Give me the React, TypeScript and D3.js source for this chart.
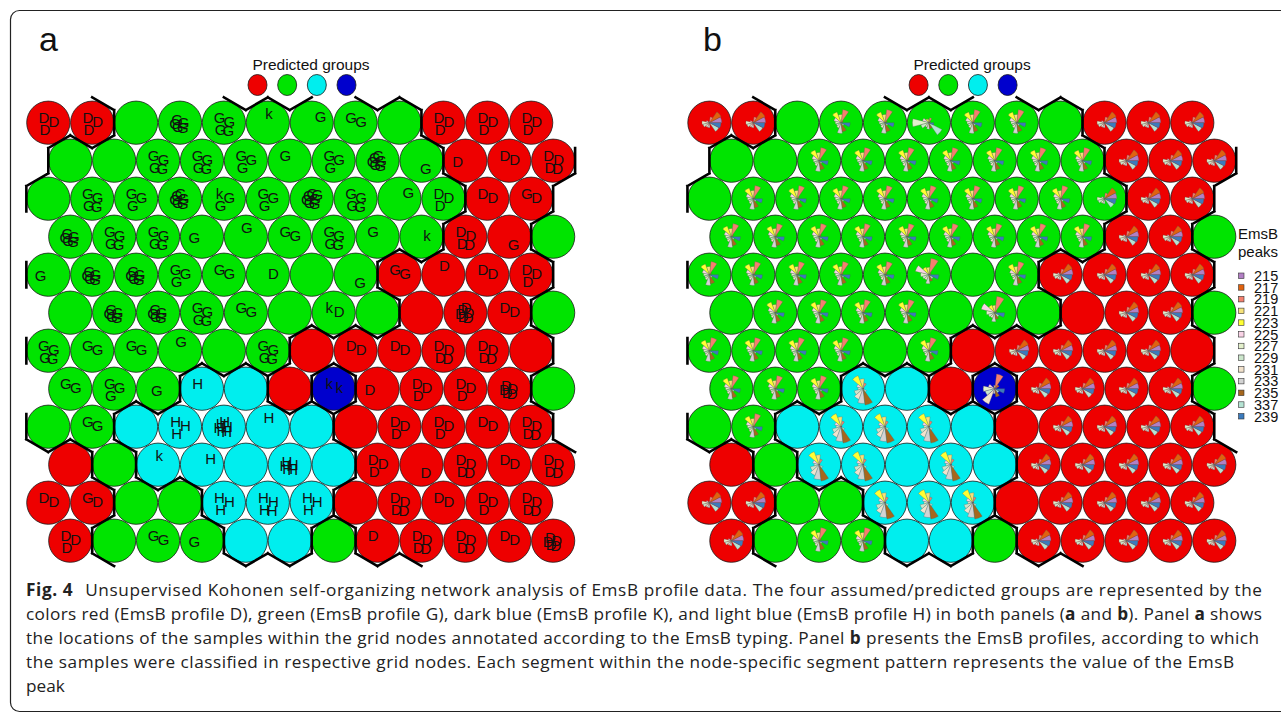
import React from "react";
import * as d3 from "d3";

// SOM grid: 12 x 12 hexagonal, rows from top
const N_ROWS = 12;
const N_COLS = 12;

// predicted group per node (R red = D, G green = G, C light blue = H, B dark blue = K)
const GROUP_ROWS = [
  "RRGGGGGGGRRR",
  "GGGGGGGGGRRR",
  "GGGGGGGGGGRR",
  "GGGGGGGGGRRG",
  "GGGGGGGGRRRR",
  "GGGGGGGGRRRG",
  "GGGGGGRRRRRR",
  "GGGCCRBRRRRG",
  "GGCCCCCRRRRR",
  "RGCCCCCRRRRR",
  "RRGGCCCRRRRR",
  "RGGGCCGRRRRR",
];

// samples mapped into each node, one char per sample (EmsB typing)
const NODE_LABELS = [
  ["DDD", "DDD", "", "GGGGG", "GGGG", "k", "G", "GG", "", "DDD", "DDD", "DDD"],
  ["", "", "GGGG", "GGGG", "GGG", "G", "GGG", "GGGGGG", "G", "D", "DD", "DDDD"],
  ["", "GGGG", "GGG", "GGGGGG", "kGG", "GGG", "GGGGGGG", "GGGG", "G", "DDD", "DD", "GD"],
  ["GGGGG", "GGGG", "GGGG", "G", "G", "GG", "GGGG", "G", "k", "DDDD", "G", ""],
  ["G", "GGGGG", "GGGGG", "GGG", "GG", "D", "", "G", "GG", "D", "DD", "DDD"],
  ["", "GGGGG", "GGGGG", "GGGG", "GG", "", "kD", "", "", "DDDDDD", "DD", ""],
  ["GGGG", "GG", "GG", "G", "", "GGGG", "", "DD", "DD", "DDDD", "DDDD", ""],
  ["GG", "GGG", "G", "H", "", "", "kk", "D", "DDD", "DDD", "DDDDD", ""],
  ["", "GG", "", "HHH", "HHHHHH", "H", "", "", "DDD", "DDD", "DD", "DDDD"],
  ["", "", "k", "H", "", "HHHHH", "", "DDD", "D", "DDDD", "DD", "DDDD"],
  ["DD", "GD", "", "", "HHH", "HHHH", "HHH", "", "DDDD", "DD", "DDD", "DDDD"],
  ["DDD", "", "GG", "G", "", "", "", "D", "DDDD", "DDDD", "DD", "DDDDD"],
];

const GROUP_COLORS: Record<string, string> = {
  R: "#ee0000",
  G: "#00e400",
  C: "#00eeee",
  B: "#0000cd",
};
const LEGEND_GROUPS = ["R", "G", "C", "B"];

// EmsB peaks (legend keeps the "337" as printed)
const PEAKS = ["215", "217", "219", "221", "223", "225", "227", "229", "231", "233", "235", "337", "239"];
const PEAK_COLORS = [
  "#b27fc4", "#e0620f", "#f4806e", "#f6e27a", "#ffff33", "#f9d3e6", "#e3f0cc",
  "#cce6cc", "#f2e2cc", "#d3d3d3", "#a6671d", "#b5e3d3", "#3b7bbd",
];

// codebook profiles (relative peak values)
const PROFILE_RED = [0.75, 0.8, 0.35, 0.08, 0.05, 0.2, 0.45, 0.4, 0.3, 0.3, 0.1, 0.65, 0.7];
const PROFILE_GREEN = [0.05, 0.15, 0.8, 0.5, 0.7, 0.45, 0.35, 0.3, 0.35, 0.65, 0.55, 0.2, 0.55];
const PROFILE_CYAN = [0.02, 0.05, 0.35, 0.6, 0.85, 0.4, 0.3, 0.55, 0.7, 0.9, 1.0, 0.25, 0.05];
const PROFILE_BLUE = [0.1, 0.3, 0.9, 0.2, 0.1, 0.4, 0.7, 0.6, 1.0, 0.3, 0.5, 0.3, 0.6];
const PROFILE_PINK = [0.1, 0.15, 1.0, 0.45, 0.5, 0.85, 0.5, 0.4, 0.35, 0.55, 0.4, 0.3, 0.6];
const PROFILE_WIDE = [0.1, 0.1, 0.3, 0.2, 0.25, 0.4, 1.0, 0.5, 0.3, 0.4, 0.35, 0.9, 0.3];
const GROUP_PROFILES: Record<string, number[]> = {
  R: PROFILE_RED,
  G: PROFILE_GREEN,
  C: PROFILE_CYAN,
  B: PROFILE_BLUE,
};
// nodes whose pattern differs from their group's
const PROFILE_OVERRIDES: [number, number, number[]][] = [
  [0, 5, PROFILE_WIDE],
  [4, 5, PROFILE_PINK],
  [5, 6, PROFILE_PINK],
  [2, 9, PROFILE_RED],
];

const CAPTION = [
  [["b", "Fig. 4"], ["s", "Unsupervised Kohonen self-organizing network analysis of EmsB profile data. The four assumed/predicted groups are represented by the"]],
  [["n", "colors red (EmsB profile D), green (EmsB profile G), dark blue (EmsB profile K), and light blue (EmsB profile H) in both panels ("], ["b", "a"], ["n", " and "], ["b", "b"], ["n", "). Panel "], ["b", "a"], ["n", " shows"]],
  [["n", "the locations of the samples within the grid nodes annotated according to the EmsB typing. Panel "], ["b", "b"], ["n", " presents the EmsB profiles, according to which"]],
  [["n", "the samples were classified in respective grid nodes. Each segment within the node-specific segment pattern represents the value of the EmsB"]],
  [["n", "peak"]],
];
const CAPTION_WIDTHS = [1236, 1236, 1233, 1208, 0];

// layout
const W = 1281;
const H = 713;
const X0 = 48.3;
const Y0 = 122.7;
const DX = 43.9;
const DY = 38.0;
const CIRCLE_R = 21.6;
const HEX_R = DX / Math.sqrt(3);
const PIE_R = 16.5;
const PANEL_B_SHIFT = 661.1;
const JITTER = [[-4, -5], [5, -1], [-3, 6], [4, 7], [-7, 1], [1, -8], [8, -6], [-1, 2]];

const FONT = "'Liberation Sans', Arial, sans-serif";

const mod = (a: number, n: number) => ((a % n) + n) % n;

function SomPanel({ ox, mode }: { ox: number; mode: "labels" | "codes" }) {
  const xs = d3.scaleLinear().domain([0, N_COLS - 1]).range([ox + X0, ox + X0 + (N_COLS - 1) * DX]);
  const ys = d3.scaleLinear().domain([0, N_ROWS - 1]).range([Y0, Y0 + (N_ROWS - 1) * DY]);

  const cells: { r: number; c: number; cx: number; cy: number; g: string; labels: string }[] = [];
  for (let r = 0; r < N_ROWS; r++) {
    for (let c = 0; c < N_COLS; c++) {
      cells.push({
        r,
        c,
        cx: xs(c + (r % 2 ? 0.5 : 0)),
        cy: ys(r),
        g: GROUP_ROWS[r][c],
        labels: NODE_LABELS[r][c],
      });
    }
  }

  // cluster boundaries (toroidal neighbours, as in the original)
  const path = d3.path();
  cells.forEach(({ r, c, cx, cy, g }) => {
    const top: [number, number] = [cx, cy - HEX_R];
    const ur: [number, number] = [cx + DX / 2, cy - HEX_R / 2];
    const lr: [number, number] = [cx + DX / 2, cy + HEX_R / 2];
    const bot: [number, number] = [cx, cy + HEX_R];
    const ll: [number, number] = [cx - DX / 2, cy + HEX_R / 2];
    const ul: [number, number] = [cx - DX / 2, cy - HEX_R / 2];
    const odd = r % 2 === 1;
    const up = mod(r - 1, N_ROWS);
    const dn = mod(r + 1, N_ROWS);
    const lc = odd ? c : c - 1;
    const rc = odd ? c + 1 : c;
    const nbrs: [number, number, [number, number], [number, number]][] = [
      [r, c + 1, ur, lr],
      [r, c - 1, ul, ll],
      [up, lc, ul, top],
      [up, rc, top, ur],
      [dn, lc, ll, bot],
      [dn, rc, bot, lr],
    ];
    nbrs.forEach(([nr, nc, a, b]) => {
      if (GROUP_ROWS[nr][mod(nc, N_COLS)] !== g) {
        path.moveTo(a[0], a[1]);
        path.lineTo(b[0], b[1]);
      }
    });
  });

  const segAngle = (2 * Math.PI) / PEAKS.length;
  const arc = d3
    .arc<{ j: number; v: number }>()
    .innerRadius(0)
    .outerRadius((d) => d.v * PIE_R)
    .startAngle((d) => Math.PI / 2 - (d.j + 1) * segAngle)
    .endAngle((d) => Math.PI / 2 - d.j * segAngle);

  const profileFor = (r: number, c: number, g: string) => {
    const o = PROFILE_OVERRIDES.find(([rr, cc]) => rr === r && cc === c);
    return o ? o[2] : GROUP_PROFILES[g];
  };

  return (
    <g>
      {cells.map((d) => (
        <circle
          key={`c${d.r}-${d.c}`}
          cx={d.cx}
          cy={d.cy}
          r={CIRCLE_R}
          fill={GROUP_COLORS[d.g]}
          stroke="#1a1a1a"
          strokeWidth={0.8}
        />
      ))}
      {mode === "labels" &&
        cells.map((d) => {
          const n = d.labels.length;
          const k = n > 4 ? 0.7 : 1.1;
          const start = n === 1 ? (d.r * 3 + d.c) % JITTER.length : 0;
          return d.labels.split("").map((ch, i) => {
            const [jx, jy] = JITTER[(start + i) % JITTER.length];
            return (
              <text
                key={`t${d.r}-${d.c}-${i}`}
                x={d.cx + jx * k}
                y={d.cy + jy * k}
                textAnchor="middle"
                dominantBaseline="central"
                fontFamily={FONT}
                fontSize={15}
                fill="#111"
              >
                {ch}
              </text>
            );
          });
        })}
      {mode === "codes" &&
        cells
          .filter((d) => d.labels.length > 0)
          .map((d) => {
            const prof = profileFor(d.r, d.c, d.g);
            return (
              <g key={`p${d.r}-${d.c}`} transform={`translate(${d.cx},${d.cy})`}>
                {prof.map((v, j) => (
                  <path
                    key={j}
                    d={arc({ j, v }) || ""}
                    fill={PEAK_COLORS[j]}
                    stroke="#555"
                    strokeWidth={0.3}
                  />
                ))}
              </g>
            );
          })}
      <path d={path.toString()} fill="none" stroke="#000" strokeWidth={2.6} strokeLinecap="square" />
    </g>
  );
}

function GroupLegend({ cx }: { cx: number }) {
  const xs = d3.scalePoint<string>().domain(LEGEND_GROUPS).range([cx - 44.5, cx + 44.5]);
  return (
    <g>
      <text x={cx + 9} y={70} textAnchor="middle" fontFamily={FONT} fontSize={15.5} fill="#111">
        Predicted groups
      </text>
      {LEGEND_GROUPS.map((g) => (
        <ellipse key={g} cx={xs(g)} cy={85} rx={9.5} ry={10.5} fill={GROUP_COLORS[g]} stroke="#1a1a1a" strokeWidth={0.8} />
      ))}
    </g>
  );
}

function PeakLegend() {
  const ys = d3.scaleLinear().domain([0, PEAKS.length - 1]).range([276, 416.5]);
  return (
    <g fontFamily={FONT} fill="#111">
      <text x={1238} y={239} fontSize={15}>EmsB</text>
      <text x={1238} y={257} fontSize={15}>peaks</text>
      {PEAKS.map((p, i) => (
        <g key={p}>
          <rect x={1238.5} y={ys(i) - 3} width={5.5} height={5.5} fill={PEAK_COLORS[i]} stroke="#333" strokeWidth={0.6} />
          <text x={1254} y={ys(i) + 5} fontSize={14.5}>{p}</text>
        </g>
      ))}
    </g>
  );
}

export default function App() {
  const capY = d3.scaleLinear().domain([0, 4]).range([596, 692]);
  return (
    <svg
      width={W}
      height={H}
      viewBox={`0 0 ${W} ${H}`}
      style={{ position: "absolute", left: 0, top: 0, background: "#fff" }}
    >
      <rect x={10.5} y={10.5} width={1300} height={701} rx={9} fill="#fff" stroke="#222" strokeWidth={1.2} />
      <text x={39} y={51} fontFamily={FONT} fontSize={34} fill="#111">a</text>
      <text x={703} y={51} fontFamily={FONT} fontSize={34} fill="#111">b</text>
      <GroupLegend cx={302} />
      <GroupLegend cx={302 + PANEL_B_SHIFT} />
      <SomPanel ox={0} mode="labels" />
      <SomPanel ox={PANEL_B_SHIFT} mode="codes" />
      <PeakLegend />
      {CAPTION.map((line, i) => (
        <text
          key={i}
          x={26}
          y={capY(i)}
          fontFamily="'Open Sans', sans-serif"
          fontSize={17.2}
          fill="#222"
          {...(CAPTION_WIDTHS[i] ? { textLength: CAPTION_WIDTHS[i], lengthAdjust: "spacing" } : {})}
        >
          {line.map(([kind, s], j) =>
            kind === "b" ? (
              <tspan key={j} fontWeight="bold">{s}</tspan>
            ) : kind === "s" ? (
              <tspan key={j} dx={12}>{s}</tspan>
            ) : (
              <tspan key={j}>{s}</tspan>
            )
          )}
        </text>
      ))}
    </svg>
  );
}
